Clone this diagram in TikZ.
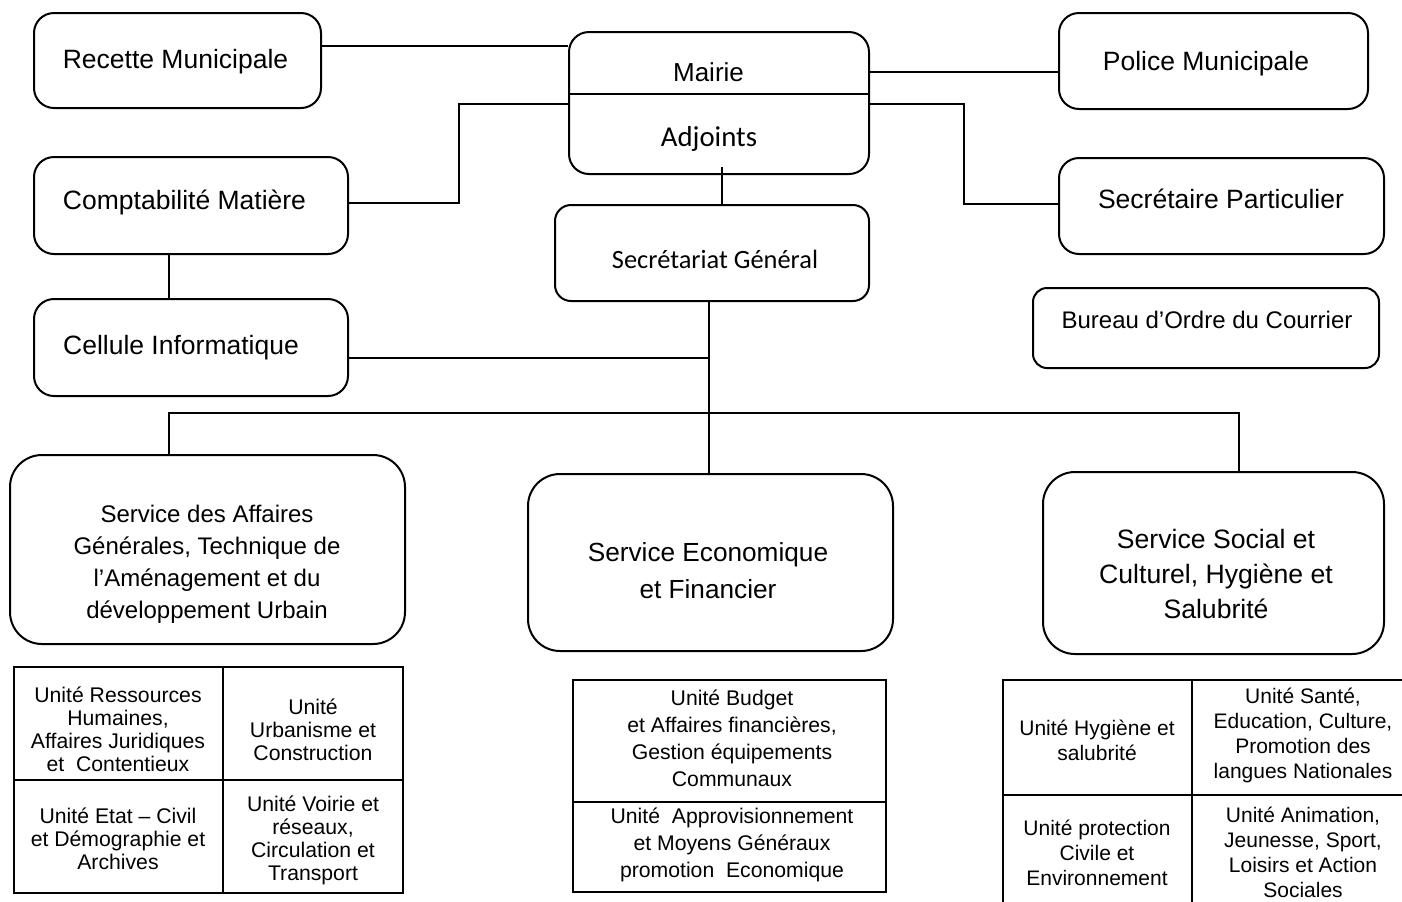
\documentclass[tikz,border=0pt]{standalone}
\usepackage{fontspec}
\setmainfont{Liberation Sans}
\newfontfamily\calib{Carlito}
\usetikzlibrary{fit,calc}
\begin{document}
\begin{tikzpicture}[x=0.5pt,y=-0.5pt,
  box/.style={draw,line width=1pt,rounded corners=10pt,inner sep=0pt},
  bigbox/.style={box,rounded corners=16pt},
  conn/.style={line width=1pt},
  gridline/.style={line width=1pt},
  txt/.style={inner sep=0pt,anchor=base,font=\fontsize{13.25}{17}\selectfont},
  svc/.style={inner sep=0pt,align=center},
  cell/.style={inner sep=0pt,align=center}]
\useasboundingbox (0,0) rectangle (1402,901);
\clip (0,0) rectangle (1402,901);

% ---- boxes ----
\node[box,fit={(34,13)(321,108)}] (rec) {};
\node[box,fit={(34,157)(348,254)}] (comp) {};
\node[box,fit={(34,299)(348,396)}] (cell) {};
\node[box,fit={(569,32)(869,174)}] (mairie) {};
\node[box,rounded corners=8pt,fit={(555,205)(869,301)}] (sg) {};
\node[box,fit={(1059,13)(1368,109)}] (police) {};
\node[box,fit={(1059,158)(1384,254)}] (secp) {};
\node[box,rounded corners=7pt,fit={(1033,288)(1379,368)}] (bur) {};
\node[bigbox,fit={(10,455)(405,644)}] (sag) {};
\node[bigbox,fit={(528,474)(893,651)}] (sef) {};
\node[bigbox,fit={(1043,472)(1384,654)}] (ssc) {};

% ---- box texts ----
\node[txt] (rect) at (175.5,68) {Recette Municipale};
\node[txt] (compt) at (184.5,209) {Comptabilité Matière};
\node[txt] (cellt) at (181,354) {Cellule Informatique};
\node[txt,font=\fontsize{13}{16}\selectfont] (mairiet) at (708.5,81) {Mairie};
\node[txt,font=\calib\fontsize{14.4}{17}\selectfont] (adjt) at (709,146) {Adjoints};
\node[txt,font=\calib\fontsize{13.2}{16}\selectfont] (sgt) at (715,268) {Secrétariat Général};
\node[txt] (policet) at (1206,70) {Police Municipale};
\node[txt] (secpt) at (1221,208) {Secrétaire Particulier};
\node[txt,font=\fontsize{12}{15}\selectfont] (burt) at (1207,328) {Bureau d’Ordre du Courrier};

\node[svc,font=\fontsize{12}{16}\selectfont] (sagt) at (207,564)
  {Service des Affaires\\Générales, Technique de\\l’Aménagement et du\\développement Urbain};
\node[svc,font=\fontsize{13.1}{18.5}\selectfont] (seft) at (708,571)
  {Service Economique\\et Financier};
\node[svc,font=\fontsize{13.3}{17.5}\selectfont] (ssct) at (1216,574)
  {Service Social et\\Culturel, Hygiène et\\Salubrité};

% Mairie divider
\draw[conn] (mairie.west |- 0,94) -- (mairie.east |- 0,94);

% ---- connectors ----
\draw[conn] (rec.east |- 0,46) -- (mairie.west |- 0,46);
\draw[conn] (comp.east |- 0,203) -- (459,203) |- (mairie.west |- 0,104);
\draw[conn] (169,0 |- comp.south) -- (169,0 |- cell.north);
\coordinate (cjoin) at (709,358);
\draw[conn] (cell.east |- cjoin) -- (cjoin);
\coordinate (adjfoot) at (722,167);
\draw[conn] (adjfoot) -- (adjfoot |- sg.north);
\draw[conn] (mairie.east |- 0,72) -- (police.west |- 0,72);
\draw[conn] (mairie.east |- 0,104) -- (964,104) |- (secp.west |- 0,204);
\draw[conn] (709,0 |- sg.south) -- (709,0 |- sef.north);
\coordinate (barL) at (169,413);
\coordinate (barR) at (1239,413);
\draw[conn] (barL |- sag.north) -- (barL) -- (barR) -- (barR |- ssc.north);

% ---- left table ----
\draw[gridline] (14,667) rectangle (403,893);
\draw[gridline] (223,667) -- (223,893);
\draw[gridline] (14,780) -- (403,780);
\begin{scope}[every node/.style={cell,font=\fontsize{10.6}{11.5}\selectfont}]
\node (t1a) at (118,729) {Unité Ressources\\Humaines,\\Affaires Juridiques\\et~ Contentieux};
\node (t1b) at (313,730) {Unité\\Urbanisme et\\Construction};
\node (t1c) at (118,839) {Unité Etat – Civil\\et Démographie et\\Archives};
\node (t1d) at (313,840) {Unité Voirie et\\réseaux,\\Circulation et\\Transport};
\end{scope}

% ---- middle table ----
\draw[gridline] (573,680) rectangle (886,892);
\draw[gridline] (573,802) -- (886,802);
\begin{scope}[every node/.style={cell,font=\fontsize{10.6}{13.5}\selectfont}]
\node (t2a) at (732,738) {Unité Budget\\et Affaires financières,\\Gestion équipements\\Communaux};
\node (t2b) at (732,845) {Unité~ Approvisionnement\\et Moyens Généraux\\promotion~ Economique};
\end{scope}

% ---- right table ----
\draw[gridline] (1003,680) rectangle (1414,912);
\draw[gridline] (1192,680) -- (1192,912);
\draw[gridline] (1003,795) -- (1414,795);
\begin{scope}[every node/.style={cell,font=\fontsize{10.5}{12.5}\selectfont}]
\node (t3a) at (1097,740) {Unité Hygiène et\\salubrité};
\node (t3b) at (1303,735) {Unité Santé,\\Education, Culture,\\Promotion des\\langues Nationales};
\node (t3c) at (1097,853) {Unité protection\\Civile et\\Environnement};
\node (t3d) at (1303,852) {Unité Animation,\\Jeunesse, Sport,\\Loisirs et Action\\Sociales};
\end{scope}
\end{tikzpicture}
\end{document}
